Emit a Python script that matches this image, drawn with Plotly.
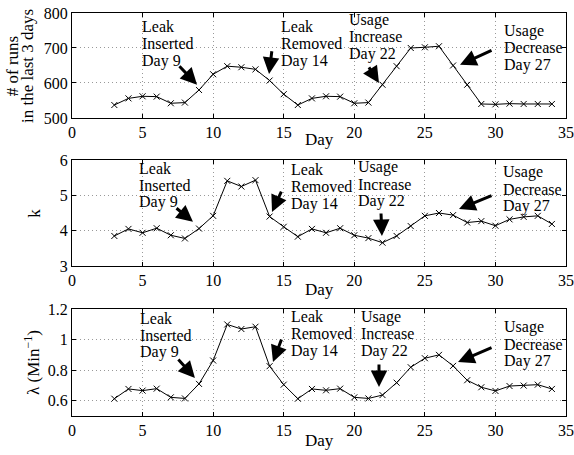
import plotly.graph_objects as go
from plotly.subplots import make_subplots

# Daily statistics
days = list(range(3, 35))
runs = [537, 556, 562, 561, 542, 544, 580, 625, 648, 645, 639, 607, 568, 537,
        556, 562, 561, 542, 544, 595, 648, 700, 702, 705, 650, 595, 540, 539,
        541, 540, 540, 540]
k_vals = [3.85, 4.05, 3.94, 4.07, 3.87, 3.78, 4.06, 4.42, 5.41, 5.25, 5.43, 4.40,
          4.11, 3.83, 4.05, 3.94, 4.07, 3.87, 3.79, 3.66, 3.85, 4.13, 4.42, 4.50,
          4.44, 4.23, 4.27, 4.14, 4.32, 4.39, 4.42, 4.19]
lam_vals = [0.613, 0.677, 0.666, 0.679, 0.622, 0.615, 0.710, 0.863, 1.099, 1.069,
            1.084, 0.826, 0.705, 0.613, 0.677, 0.668, 0.679, 0.622, 0.615, 0.637,
            0.718, 0.819, 0.878, 0.900, 0.828, 0.734, 0.688, 0.664, 0.696, 0.699,
            0.705, 0.677]

event_labels = [
    ["Leak", "Inserted", "Day 9"],
    ["Leak", "Removed", "Day 14"],
    ["Usage", "Increase", "Day 22"],
    ["Usage", "Decrease", "Day 27"],
]

# Per panel: (text left x, first line y, arrow tail x, tail y, head x, head y)
event_layout = [
    [(4.82, 761, 7.51, 652, 8.86, 595),
     (14.67, 761, 14.17, 695, 13.96, 626),
     (19.48, 781, 20.97, 649, 21.75, 600),
     (30.47, 750, 29.83, 695, 27.49, 652)],
    [(4.61, 5.77, 7.30, 4.67, 8.57, 4.25),
     (15.37, 5.72, 14.88, 5.15, 14.17, 4.53),
     (20.12, 5.80, 21.89, 4.53, 21.96, 3.85),
     (30.40, 5.66, 29.83, 5.01, 27.42, 4.61)],
    [(4.68, 1.141, 7.44, 0.879, 8.71, 0.749),
     (15.37, 1.148, 14.88, 1.010, 14.24, 0.853),
     (20.33, 1.148, 21.75, 0.847, 21.75, 0.690),
     (30.47, 1.082, 29.83, 0.951, 27.35, 0.853)],
]

y_ranges = [[500, 800], [3, 6], [0.5, 1.2]]
y_ticks = [[500, 600, 700, 800], [3, 4, 5, 6], [0.6, 0.8, 1, 1.2]]
y_ticktext = [["500", "600", "700", "800"], ["3", "4", "5", "6"],
              ["0.6", "0.8", "1", "1.2"]]
series = [runs, k_vals, lam_vals]

FONT = "'Liberation Serif', 'Times New Roman', 'DejaVu Serif', serif"
fig = make_subplots(rows=3, cols=1)

domains = [[0.7395, 1.0], [0.3722, 0.6352], [0.0, 0.2655]]
day_title_y = [0.6849, 0.3151, -0.0596]

for i, vals in enumerate(series):
    r = i + 1
    fig.add_trace(go.Scatter(
        x=days, y=vals, mode="lines+markers",
        line=dict(color="black", width=1),
        marker=dict(symbol="x-thin", size=6, line=dict(color="black", width=1)),
        showlegend=False), row=r, col=1)
    axis_common = dict(showline=True, linecolor="black", linewidth=1, mirror="ticks",
                       ticks="inside", ticklen=4, tickcolor="black",
                       showgrid=True, gridcolor="#999999", griddash="1px,3px",
                       gridwidth=1, zeroline=False, automargin=False,
                       tickfont=dict(family=FONT, size=16, color="black"))
    fig.update_xaxes(range=[0, 35], tickvals=[0, 5, 10, 15, 20, 25, 30, 35],
                     row=r, col=1, **axis_common)
    fig.update_yaxes(range=y_ranges[i], tickvals=y_ticks[i], ticktext=y_ticktext[i],
                     domain=domains[i], row=r, col=1, **axis_common)

    # x-axis title
    fig.add_annotation(x=0.5, y=day_title_y[i], xref="paper", yref="paper",
                       text="Day", showarrow=False, xanchor="center",
                       yanchor="middle",
                       font=dict(family=FONT, size=17, color="black"))

    xref = "x" if r == 1 else f"x{r}"
    yref = "y" if r == 1 else f"y{r}"
    for lab, (tx, ty, ax, ay, hx, hy) in zip(event_labels, event_layout[i]):
        for j, line in enumerate(lab):
            fig.add_annotation(x=tx, y=ty, xref=xref, yref=yref, text=line,
                               showarrow=False, xanchor="left", yanchor="middle",
                               yshift=-17 * j,
                               font=dict(family=FONT, size=16, color="black"))
        fig.add_annotation(x=hx, y=hy, ax=ax, ay=ay, xref=xref, yref=yref,
                           axref=xref, ayref=yref, text="", showarrow=True,
                           arrowhead=2, arrowsize=1.1, arrowwidth=3, arrowcolor="black",
                           standoff=0, startstandoff=0)

# Y-axis titles
title_font = dict(family=FONT, size=17, color="black")
ytitles = [("# of runs", -0.119, 0.8685), ("in the last 3 days", -0.089, 0.8685),
           ("k", -0.075, 0.504), ("λ (Min<sup>−1</sup>)", -0.081, 0.134)]
for text, px_, py_ in ytitles:
    fig.add_annotation(x=px_, y=py_, xref="paper", yref="paper", text=text,
                       textangle=-90, showarrow=False, xanchor="center",
                       yanchor="middle", font=title_font)

fig.update_layout(width=574, height=455,
                  margin=dict(l=72, r=8, t=13, b=39, autoexpand=False),
                  plot_bgcolor="white", paper_bgcolor="white",
                  font=dict(family=FONT, color="black"))

fig.write_html("out.html")
